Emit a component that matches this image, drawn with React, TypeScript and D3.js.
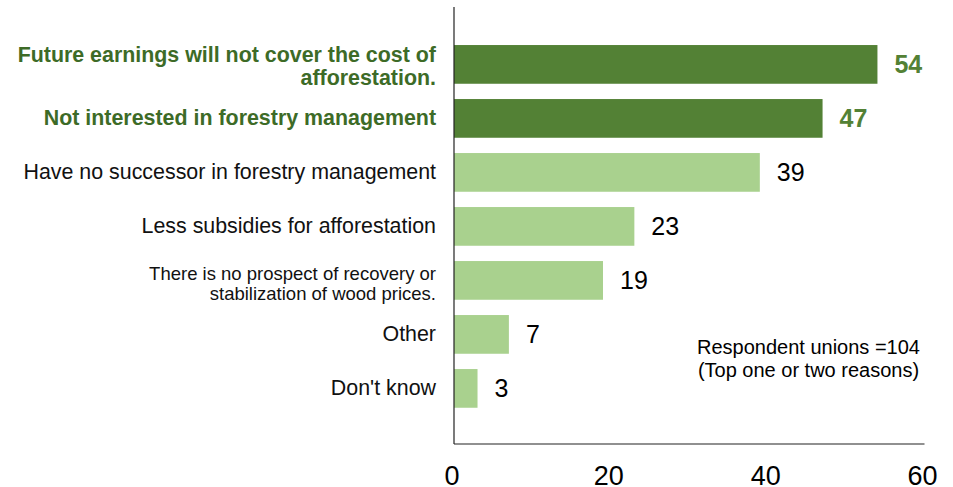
import React from "react";
import * as d3 from "d3";

const categories: string[][] = [
  ["Future earnings will not cover the cost of", "afforestation."],
  ["Not interested in forestry management"],
  ["Have no successor in forestry management"],
  ["Less subsidies for afforestation"],
  ["There is no prospect of recovery or", "stabilization of wood prices."],
  ["Other"],
  ["Don't know"],
];
const values: number[] = [54, 47, 39, 23, 19, 7, 3];
const highlighted: boolean[] = [true, true, false, false, false, false, false];
const xTicks: number[] = [0, 20, 40, 60];
const noteLines: string[] = ["Respondent unions =104", "(Top one or two reasons)"];

const W = 953;
const H = 487;
const FONT = "'Liberation Sans', Arial, Helvetica, sans-serif";
const DARK = "#538135";
const LIGHT = "#A9D18E";
const LABEL_DARK = "#3D6B27";

export default function App() {
  const x = d3.scaleLinear().domain([0, 60]).range([454, 924.5]);
  const y = d3
    .scaleBand<number>()
    .domain(d3.range(categories.length))
    .range([37.4, 415.4])
    .paddingInner(0.283)
    .paddingOuter(0.1415);

  return (
    <svg
      width={W}
      height={H}
      style={{ position: "absolute", left: 0, top: 0, background: "#fff" }}
      fontFamily={FONT}
    >
      {values.map((v, i) => (
        <rect
          key={"b" + i}
          x={x(0)}
          y={y(i)!}
          width={x(v) - x(0)}
          height={y.bandwidth()}
          fill={highlighted[i] ? DARK : LIGHT}
        />
      ))}
      {values.map((v, i) => (
        <text
          key={"v" + i}
          x={x(v) + 17}
          y={y(i)! + y.bandwidth() / 2}
          dy="0.35em"
          fontSize={25}
          fontWeight={highlighted[i] ? "bold" : "normal"}
          fill={highlighted[i] ? DARK : "#000"}
        >
          {v}
        </text>
      ))}
      {categories.map((lines, i) => {
        const cy = y(i)! + y.bandwidth() / 2;
        const small = lines.length > 1 && !highlighted[i];
        const fs = small ? 18.5 : 21.4;
        const lh = highlighted[i] ? 22.3 : 20.7;
        const shift = lines.length > 1 ? (small ? 3 : 1.5) : -0.5;
        const y0 = cy + shift - ((lines.length - 1) * lh) / 2;
        return (
          <text
            key={"c" + i}
            textAnchor="end"
            fontSize={fs}
            fontWeight={highlighted[i] ? "bold" : "normal"}
            fill={highlighted[i] ? LABEL_DARK : "#111"}
          >
            {lines.map((l, j) => (
              <tspan key={j} x={436} y={y0 + j * lh} dy="0.35em">
                {l}
              </tspan>
            ))}
          </text>
        );
      })}
      <line x1={x(0)} x2={x(0)} y1={7} y2={444} stroke="#222" strokeWidth={1.2} />
      <line x1={x(0)} x2={x(60)} y1={444} y2={444} stroke="#222" strokeWidth={1.2} />
      {xTicks.map((t) => (
        <text
          key={"t" + t}
          x={x(t) - 2}
          y={475.5}
          dy="0.35em"
          textAnchor="middle"
          fontSize={27}
          fill="#000"
        >
          {t}
        </text>
      ))}
      <text textAnchor="middle" fontSize={20} fill="#000">
        {noteLines.map((l, j) => (
          <tspan key={j} x={808.5} y={347 + j * 23} dy="0.35em">
            {l}
          </tspan>
        ))}
      </text>
    </svg>
  );
}
